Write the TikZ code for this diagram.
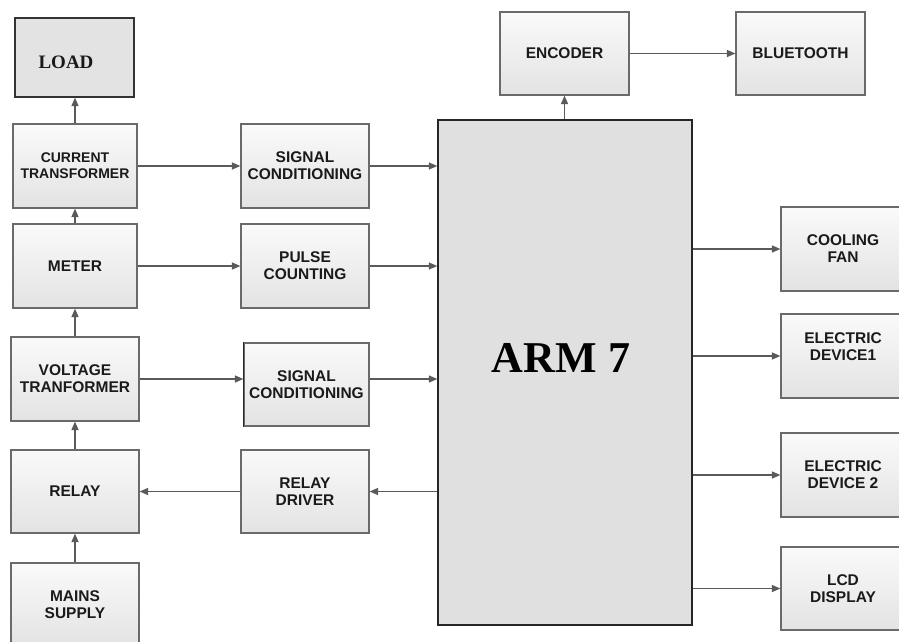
\documentclass[tikz,border=0pt]{standalone}
\usepackage{fontspec}
\setmainfont{Liberation Sans}
\newfontfamily\serifbf{Liberation Serif}
\usetikzlibrary{arrows.meta}
\definecolor{edge}{HTML}{6A6A6A}
\definecolor{wire}{HTML}{5A5A5A}
\definecolor{ink}{HTML}{1A1A1A}
\definecolor{armfill}{HTML}{E0E0E0}
\begin{document}
\begin{tikzpicture}[x=1pt,y=-1pt,
  blk/.style={draw=edge, line width=1.2pt, top color=white!98!black, bottom color=black!11,
    shading angle=0, minimum width=128pt, minimum height=84pt, inner sep=0pt,
    align=center, text=ink, font=\fontsize{15.5}{17}\selectfont\bfseries},
  smalltxt/.style={font=\fontsize{14}{16}\selectfont\bfseries},
  txt/.style={text=ink, align=center, font=\fontsize{15.5}{17}\selectfont\bfseries},
  flow/.style={draw=wire, line width=1.4pt, -{Triangle[length=8.5pt,width=7pt]}}]
\useasboundingbox (0,0) rectangle (899,641);
\clip (0,0) rectangle (899,641);
\fill[white] (0,0) rectangle (899,641);

% left column
\node[draw=black!80, line width=1.3pt, fill=black!11, minimum width=119pt, minimum height=79pt,
  label={[text=ink, font=\fontsize{19}{21}\selectfont\serifbf\bfseries, xshift=-8.5pt, yshift=-4.5pt]center:LOAD}]
  (load) at (74.5,57.5) {};
\node[blk, smalltxt, minimum width=124pt] (ct) at (75,166) {CURRENT\\TRANSFORMER};
\node[blk, minimum width=124pt] (meter) at (75,266) {METER};
\node[blk] (vt) at (75,379) {VOLTAGE\\TRANFORMER};
\node[blk, minimum height=83pt] (relay) at (75,491.5) {RELAY};
\node[blk, minimum height=83pt] (mains) at (75,604.5) {MAINS\\SUPPLY};

% middle column
\node[blk] (sc1) at (305,166) {SIGNAL\\CONDITIONING};
\node[blk] (pc) at (305,266) {PULSE\\COUNTING};
\node[blk, minimum width=125pt, minimum height=83pt] (sc2) at (306.5,384.5) {SIGNAL\\CONDITIONING};
\draw[black!85, line width=1.3pt] (sc2.north west) -- (sc2.south west);
\node[blk, minimum height=83pt] (rd) at (305,491.5) {RELAY\\DRIVER};

% controller
\node[draw=black!85, line width=1.4pt, fill=armfill, minimum width=254pt, minimum height=505pt,
  label={[text=black, font=\fontsize{44}{46}\selectfont\serifbf\bfseries, xshift=-4pt, yshift=14.5pt]center:ARM 7}]
  (arm) at (565,372.5) {};

% top
\node[blk, minimum width=129pt, minimum height=83pt] (enc) at (564.5,53.5) {ENCODER};
\node[blk, minimum width=129pt, minimum height=83pt] (bt) at (800.5,53.5) {BLUETOOTH};

% right column
\node[blk, minimum width=124pt] (fan) at (843,249) {COOLING\\FAN};
\node[blk, minimum width=124pt, label={[txt, yshift=9pt]center:ELECTRIC\\DEVICE1}] (ed1) at (843,356) {};
\node[blk, minimum width=124pt] (ed2) at (843,475) {ELECTRIC\\DEVICE 2};
\node[blk, minimum width=124pt, minimum height=83pt] (lcd) at (843,588.5) {LCD\\DISPLAY};

% connectors, left column upward
\draw[flow] (mains.north) -- (relay.south);
\draw[flow] (relay.north) -- (vt.south);
\draw[flow] (vt.north) -- (meter.south);
\draw[flow] (meter.north) -- (ct.south);
\draw[flow] (ct.north) -- (ct.north |- load.south);

% horizontal flows
\draw[flow] (ct.east) -- (sc1.west);
\draw[flow] (sc1.east) -- (sc1.east -| arm.west);
\draw[flow] (meter.east) -- (pc.west);
\draw[flow] (pc.east) -- (pc.east -| arm.west);
\draw[flow] (vt.east) -- (vt.east -| sc2.west);
\draw[flow] (sc2.east |- vt.east) -- (vt.east -| arm.west);
\draw[flow] (arm.west |- rd.east) -- (rd.east);
\draw[flow] (rd.west) -- (relay.east);

% top flows
\draw[flow] (enc.south |- arm.north) -- (enc.south);
\draw[flow] (enc.east) -- (bt.west);

% outputs
\draw[flow] (arm.east |- fan.west) -- (fan.west);
\draw[flow] (arm.east |- ed1.west) -- (ed1.west);
\draw[flow] (arm.east |- ed2.west) -- (ed2.west);
\draw[flow] (arm.east |- lcd.west) -- (lcd.west);
\end{tikzpicture}
\end{document}
